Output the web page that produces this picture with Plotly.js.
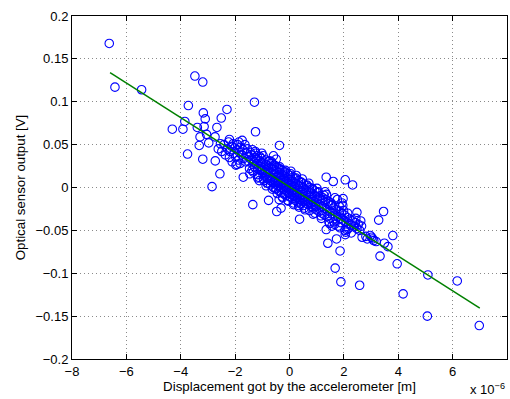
<!DOCTYPE html>
<html>
<head>
<meta charset="utf-8">
<script src="https://cdn.plot.ly/plotly-3.0.1.min.js"></script>
<style>html,body{margin:0;padding:0;background:#fff;}#chart{width:510px;height:399px;}</style>
</head>
<body>
<div id="chart"></div>
<script>
// Displacement in units of 1e-6 m, sensor output in V
const dispMicro = [
  -6.63,-6.42,-5.44,-3.48,-3.19,-1.29,-3.72,-2.30,-3.17,-3.10,-2.51,-3.85,-4.31,-3.92,-3.39,-3.14,-2.67,-1.25,-3.29,-3.05,-2.74,-3.32,-2.97,-3.75,-3.19,-2.73,-2.56,-2.85,
  -0.37,-0.59,-0.49,-1.74,-2.21,-1.70,-1.97,-1.35,-0.77,-0.47,-0.31,-0.38,0.37,
  1.35,1.61,2.05,2.32,3.46,3.28,3.80,3.62,3.49,3.33,3.96,4.18,5.09,6.17,5.07,6.98,2.58,1.89,1.68,1.86,1.73,1.41,1.35,2.48,2.65,2.67,2.97,3.10,1.97,1.93,2.05,2.11,
  -2.41,-2.28,-2.24,-2.18,-2.13,-2.08,-2.04,-2.01,-1.98,-1.94,-1.91,-1.88,-1.84,-1.79,-1.82,-1.76,-1.71,-1.68,-1.64,-1.61,-1.58,-2.62,-2.49,-2.54,-2.21,-1.93,-2.36,-2.11,-1.86,-1.55,
  -1.52,-1.47,-1.49,-1.44,-1.42,-1.38,-1.35,-1.41,-1.31,-1.27,-1.33,-1.29,-1.24,-1.21,-1.18,-1.23,-1.16,-1.19,-1.12,-1.08,-1.14,-1.06,-1.09,
  -1.03,-0.98,-1.01,-0.96,-1.04,-0.99,-0.92,-0.88,-0.91,-0.87,-0.94,-0.89,-0.82,-0.78,-0.81,-0.77,-0.84,-0.79,
  -0.72,-0.68,-0.71,-0.67,-0.74,-0.69,-0.62,-0.58,-0.61,-0.57,-0.64,-0.59,-0.52,-0.48,-0.51,-0.47,-0.54,-0.49,
  -0.42,-0.38,-0.41,-0.37,-0.44,-0.39,-0.43,-0.32,-0.28,-0.31,-0.27,-0.34,-0.29,-0.33,
  -0.22,-0.18,-0.21,-0.17,-0.24,-0.19,-0.23,-0.12,-0.08,-0.11,-0.07,-0.14,-0.09,-0.13,
  -0.02,0.02,-0.01,0.03,-0.04,0.01,-0.03,0.08,0.12,0.09,0.13,0.06,0.11,0.07,
  0.18,0.22,0.19,0.23,0.16,0.21,0.17,0.28,0.32,0.29,0.33,0.26,0.31,
  0.38,0.42,0.39,0.43,0.36,0.41,0.48,0.52,0.49,0.53,0.46,0.51,
  0.58,0.62,0.59,0.63,0.56,0.68,0.72,0.69,0.73,0.66,0.78,0.82,0.79,0.83,0.76,
  0.88,0.92,0.89,0.93,0.86,0.98,1.02,0.99,1.03,0.96,
  1.08,1.12,1.09,1.13,1.18,1.22,1.19,1.23,1.28,1.32,1.29,1.33,1.38,1.42,1.39,1.43,1.45,1.48,1.52,1.49,1.53,
  1.58,1.62,1.63,1.57,1.68,1.72,1.66,1.78,1.82,1.79,1.83,1.88,1.92,1.86,1.98,2.02,2.04,1.99,
  2.08,2.12,2.07,2.18,2.22,2.16,2.28,2.32,2.27,2.38,2.42,2.44,2.48,2.53,2.58,2.62,2.81,2.86,3.02,3.06,3.19,
  -1.46,-1.26,-1.11,-0.97,-0.86,-0.73,-0.63,-0.55,-0.45,-0.35,-0.26,-0.16,-0.06,0.04,0.14,0.24,0.34,0.44,0.54,0.64,0.74,0.84,0.94,1.06,1.16,1.26,1.36,1.56,1.76,1.96,
  -1.36,-1.17,-1.02,-0.83,-0.66,-0.52,-0.36,-0.25,-0.15,-0.05,0.05,0.15,0.25,0.35,0.47,0.57,0.71,0.87,1.01,1.17,1.31,1.47,1.67,1.87,2.14
];
const outputV = [
  0.168,0.117,0.114,0.130,0.123,0.0995,0.0956,0.091,0.087,0.080,0.081,0.077,0.068,0.068,0.070,0.071,0.070,0.065,0.059,0.062,0.059,0.049,0.052,0.039,0.033,0.031,0.016,0.001,
  0.049,0.037,0.033,0.055,0.056,0.012,0.026,-0.020,-0.015,-0.028,-0.024,-0.014,-0.037,
  0.012,0.007,0.009,0.003,-0.028,-0.038,-0.056,-0.069,-0.065,-0.080,-0.089,-0.124,-0.102,-0.109,-0.150,-0.161,-0.114,-0.110,-0.094,-0.074,-0.060,-0.065,-0.049,-0.029,-0.045,-0.058,-0.056,-0.062,-0.013,-0.018,-0.055,-0.049,
  0.050,0.045,0.053,0.042,0.048,0.051,0.040,0.046,0.036,0.044,0.050,0.032,0.041,0.047,0.028,0.038,0.044,0.034,0.050,0.030,0.040,0.045,0.042,0.051,0.035,0.027,0.038,0.030,0.053,0.045,
  0.036,0.022,0.030,0.041,0.033,0.020,0.027,0.038,0.030,0.035,0.018,0.024,0.040,0.028,0.015,0.033,0.022,0.037,0.025,0.031,0.012,0.020,0.036,
  0.024,0.016,0.029,0.010,0.034,0.020,0.021,0.027,0.013,0.032,0.008,0.018,0.019,0.025,0.010,0.030,0.015,0.005,
  0.017,0.023,0.008,0.028,0.012,0.003,0.015,0.021,0.006,0.026,0.010,0.000,0.012,0.019,0.004,0.024,0.008,-0.002,
  0.010,0.017,0.002,0.022,0.006,-0.004,0.013,0.008,0.015,0.000,0.020,0.004,-0.006,0.011,
  0.006,0.013,-0.002,0.018,0.002,-0.008,0.009,0.004,0.011,-0.004,0.016,0.000,-0.009,0.007,
  0.002,0.009,-0.006,0.014,-0.002,-0.011,0.005,0.000,0.007,-0.008,0.012,-0.004,-0.013,0.003,
  -0.002,0.005,-0.010,0.010,-0.006,-0.015,0.001,-0.004,0.003,-0.012,0.008,-0.008,-0.017,
  -0.006,0.001,-0.014,0.006,-0.010,-0.019,-0.008,-0.001,-0.016,0.004,-0.012,-0.021,
  -0.010,-0.003,-0.018,0.002,-0.014,-0.012,-0.005,-0.020,0.000,-0.016,-0.014,-0.007,-0.022,-0.002,-0.018,
  -0.016,-0.009,-0.024,-0.004,-0.020,-0.018,-0.011,-0.026,-0.006,-0.022,
  -0.020,-0.013,-0.028,-0.010,-0.022,-0.015,-0.030,-0.012,-0.024,-0.017,-0.032,-0.014,-0.026,-0.019,-0.034,-0.016,-0.040,-0.028,-0.021,-0.036,-0.018,
  -0.030,-0.024,-0.040,-0.020,-0.032,-0.026,-0.043,-0.034,-0.028,-0.045,-0.022,-0.036,-0.030,-0.047,-0.038,-0.032,-0.050,-0.027,
  -0.040,-0.035,-0.052,-0.042,-0.037,-0.048,-0.044,-0.039,-0.053,-0.046,-0.041,-0.036,-0.048,-0.043,-0.050,-0.039,-0.057,-0.060,-0.058,-0.060,-0.063,
  0.016,0.042,0.008,0.037,0.002,0.031,-0.002,0.026,-0.007,0.021,-0.011,0.018,-0.015,0.016,-0.018,0.011,-0.021,0.006,-0.024,0.003,-0.027,-0.001,-0.030,-0.005,-0.033,-0.009,-0.008,-0.045,-0.014,-0.021,
  0.044,0.011,0.040,0.005,0.030,-0.001,0.024,-0.012,0.020,-0.016,0.019,-0.020,0.014,-0.023,0.010,-0.026,0.005,-0.031,-0.001,-0.036,-0.005,-0.042,-0.012,-0.041,-0.030
];
// Linear fit endpoints (x in 1e-6 m)
const fitX = [-6.6, 7.0];
const fitSlope = -0.0202;
const fitIntercept = 0.0007;
const fitY = fitX.map(x => fitSlope * x + fitIntercept);

const xTicks = [-8,-6,-4,-2,0,2,4,6,8];
const xTickText = ['\u22128','\u22126','\u22124','\u22122','0','2','4','6','8'];
const yTicks = [-0.2,-0.15,-0.1,-0.05,0,0.05,0.1,0.15,0.2];
const yTickText = ['\u22120.2','\u22120.15','\u22120.1','\u22120.05','0','0.05','0.1','0.15','0.2'];

const font = {family: 'Liberation Sans, Arial, sans-serif', size: 13, color: '#000'};
const titleFont = {family: 'Liberation Sans, Arial, sans-serif', size: 13.3, color: '#000'};

const traces = [
  {x: dispMicro, y: outputV, type: 'scatter', mode: 'markers',
   marker: {symbol: 'circle-open', size: 8.5, color: '#0000ff', line: {width: 1.1, color: '#0000ff'}},
   hoverinfo: 'skip'},
  {x: fitX, y: fitY, type: 'scatter', mode: 'lines',
   line: {color: '#008000', width: 1.5}, hoverinfo: 'skip'}
];

const axisCommon = {
  showgrid: true, gridcolor: '#8a8a8a', griddash: '1px,3px', gridwidth: 1,
  zeroline: false, showline: true, linecolor: '#000', linewidth: 1,
  mirror: 'allticks', ticks: 'inside', ticklen: 5, tickcolor: '#000',
  tickfont: font, fixedrange: true
};

const layout = {
  width: 510, height: 399,
  margin: {l: 72, r: 3, t: 16, b: 40},
  paper_bgcolor: '#fff', plot_bgcolor: '#fff',
  showlegend: false,
  font: font,
  xaxis: Object.assign({}, axisCommon, {
    range: [-8, 8], tickvals: xTicks, ticktext: xTickText, ticklabelstandoff: 0,
    title: {text: 'Displacement got by the accelerometer [m]', font: titleFont, standoff: 2}
  }),
  yaxis: Object.assign({}, axisCommon, {
    range: [-0.2, 0.2], tickvals: yTicks, ticktext: yTickText,
    title: {text: 'Optical sensor output [V]', font: titleFont, standoff: 6}
  }),
  annotations: [{
    xref: 'paper', yref: 'paper', x: 1, y: 0, xanchor: 'right', yanchor: 'top',
    yshift: -20, xshift: 0, showarrow: false,
    text: 'x 10<sup>\u22126</sup>', font: {family: 'Liberation Sans, Arial, sans-serif', size: 13, color: '#000'}
  }]
};

Plotly.newPlot('chart', traces, layout, {displayModeBar: false, staticPlot: true});
</script>
</body>
</html>
